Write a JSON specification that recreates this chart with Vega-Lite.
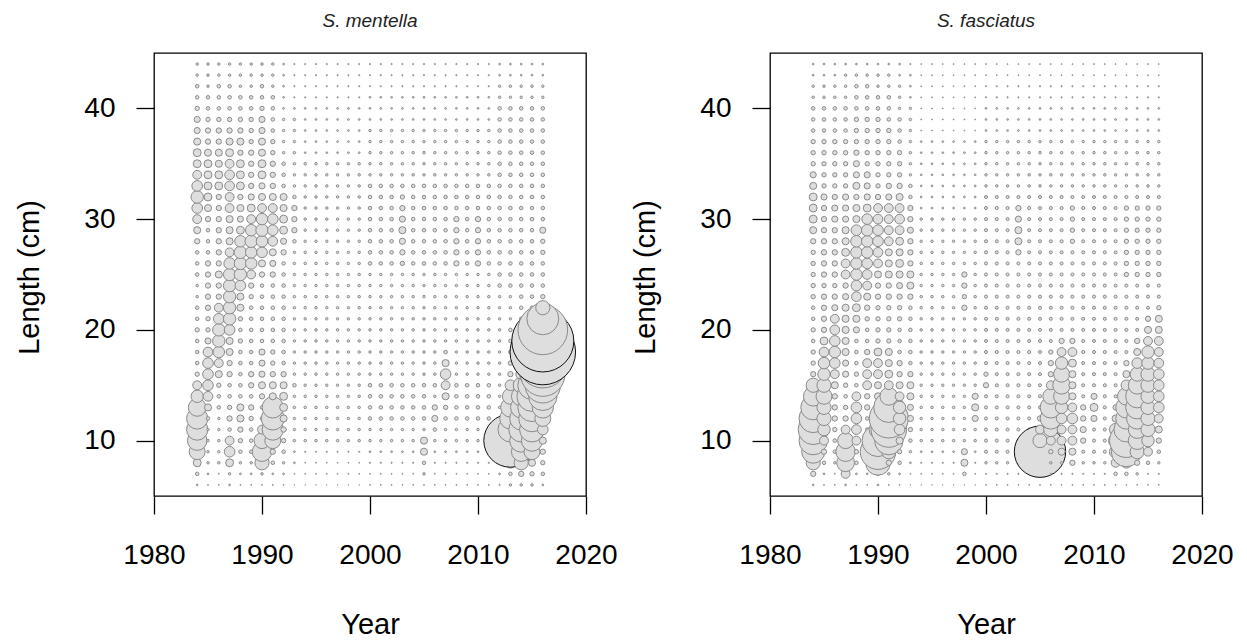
{
  "$schema": "https://vega.github.io/schema/vega-lite/v6.json",
  "autosize": {"type": "none"},
  "padding": {"left": 154, "top": 53, "right": 1093, "bottom": 590},
  "background": "white",
  "spacing": 184,
  "bounds": "flush",
  "config": {
    "view": {"stroke": "#000", "strokeWidth": 1.3},
    "axis": {
      "domain": false, "grid": false, "tickColor": "#000", "tickWidth": 1.3, "tickSize": 18,
      "labelFont": "Liberation Sans", "labelFontSize": 28, "labelColor": "#000",
      "titleFont": "Liberation Sans", "titleFontSize": 29, "titleFontWeight": "normal", "titleColor": "#000",
      "labelFlush": false, "labelOverlap": false
    },
    "title": {"font": "Liberation Sans", "fontSize": 19, "fontStyle": "italic", "fontWeight": "normal", "color": "#222", "baseline": "alphabetic", "offset": 22}
  },
  "hconcat": [
    {
      "width": 432, "height": 443,
      "title": {"text": "S. mentella"},
      "data": {
        "format": {"type": "csv", "parse": {"y": "number", "l": "number", "s": "number"}},
        "values": "y,l,s\n1984,6,1\n1984,7,4\n1984,8,20\n1984,9,81\n1984,10,121\n1984,11,144\n1984,12,144\n1984,13,100\n1984,14,49\n1984,15,25\n1984,16,6\n1984,17,4\n1984,18,4\n1984,19,4\n1984,20,6\n1984,21,4\n1984,22,4\n1984,23,2\n1984,24,2\n1984,25,4\n1984,26,4\n1984,27,4\n1984,28,9\n1984,29,16\n1984,30,25\n1984,31,36\n1984,32,49\n1984,33,36\n1984,34,25\n1984,35,20\n1984,36,20\n1984,37,16\n1984,38,12\n1984,39,12\n1984,40,6\n1984,41,4\n1984,42,4\n1984,43,2\n1984,44,2\n1985,6,0.3\n1985,7,1\n1985,8,2\n1985,9,2\n1985,10,2\n1985,11,2\n1985,12,4\n1985,13,16\n1985,14,30\n1985,15,36\n1985,16,36\n1985,17,36\n1985,18,30\n1985,19,12\n1985,20,6\n1985,21,6\n1985,22,9\n1985,23,9\n1985,24,9\n1985,25,9\n1985,26,9\n1985,27,4\n1985,28,4\n1985,29,4\n1985,30,9\n1985,31,16\n1985,32,20\n1985,33,20\n1985,34,20\n1985,35,20\n1985,36,16\n1985,37,9\n1985,38,9\n1985,39,6\n1985,40,4\n1985,41,4\n1985,42,2\n1985,43,2\n1985,44,2\n1986,6,0.3\n1986,7,0.3\n1986,8,2\n1986,9,2\n1986,10,2\n1986,11,2\n1986,12,2\n1986,13,4\n1986,14,4\n1986,15,6\n1986,16,16\n1986,17,25\n1986,18,42\n1986,19,49\n1986,20,49\n1986,21,36\n1986,22,25\n1986,23,9\n1986,24,9\n1986,25,16\n1986,26,9\n1986,27,9\n1986,28,9\n1986,29,9\n1986,30,9\n1986,31,9\n1986,32,9\n1986,33,20\n1986,34,20\n1986,35,16\n1986,36,16\n1986,37,9\n1986,38,9\n1986,39,6\n1986,40,4\n1986,41,4\n1986,42,4\n1986,43,2\n1986,44,2\n1987,6,1\n1987,7,2\n1987,8,20\n1987,9,36\n1987,10,25\n1987,11,4\n1987,12,9\n1987,13,6\n1987,14,4\n1987,15,4\n1987,16,9\n1987,17,9\n1987,18,16\n1987,19,16\n1987,20,36\n1987,21,49\n1987,22,49\n1987,23,49\n1987,24,49\n1987,25,49\n1987,26,42\n1987,27,25\n1987,28,16\n1987,29,16\n1987,30,16\n1987,31,25\n1987,32,25\n1987,33,30\n1987,34,30\n1987,35,25\n1987,36,20\n1987,37,16\n1987,38,9\n1987,39,6\n1987,40,4\n1987,41,4\n1987,42,4\n1987,43,2\n1987,44,2\n1988,6,0.3\n1988,7,1\n1988,8,2\n1988,9,4\n1988,10,6\n1988,11,9\n1988,12,16\n1988,13,16\n1988,14,4\n1988,15,4\n1988,16,4\n1988,17,4\n1988,18,4\n1988,19,6\n1988,20,4\n1988,21,6\n1988,22,16\n1988,23,16\n1988,24,36\n1988,25,49\n1988,26,49\n1988,27,49\n1988,28,42\n1988,29,20\n1988,30,12\n1988,31,16\n1988,32,9\n1988,33,20\n1988,34,20\n1988,35,20\n1988,36,9\n1988,37,16\n1988,38,9\n1988,39,6\n1988,40,4\n1988,41,4\n1988,42,2\n1988,43,2\n1988,44,2\n1989,6,0.3\n1989,7,1\n1989,8,2\n1989,9,4\n1989,10,4\n1989,11,4\n1989,12,6\n1989,13,9\n1989,14,4\n1989,15,9\n1989,16,9\n1989,17,4\n1989,18,4\n1989,19,4\n1989,20,4\n1989,21,4\n1989,22,4\n1989,23,6\n1989,24,9\n1989,25,25\n1989,26,42\n1989,27,42\n1989,28,49\n1989,29,42\n1989,30,25\n1989,31,20\n1989,32,12\n1989,33,9\n1989,34,9\n1989,35,9\n1989,36,9\n1989,37,6\n1989,38,6\n1989,39,6\n1989,40,4\n1989,41,4\n1989,42,2\n1989,43,2\n1989,44,2\n1990,6,0.3\n1990,7,2\n1990,8,64\n1990,9,121\n1990,10,81\n1990,11,25\n1990,12,4\n1990,13,4\n1990,14,9\n1990,15,16\n1990,16,12\n1990,17,12\n1990,18,12\n1990,19,4\n1990,20,4\n1990,21,4\n1990,22,4\n1990,23,4\n1990,24,4\n1990,25,9\n1990,26,16\n1990,27,36\n1990,28,42\n1990,29,49\n1990,30,42\n1990,31,25\n1990,32,16\n1990,33,12\n1990,34,20\n1990,35,20\n1990,36,16\n1990,37,16\n1990,38,12\n1990,39,12\n1990,40,6\n1990,41,4\n1990,42,4\n1990,43,2\n1990,44,2\n1991,6,0.3\n1991,7,1\n1991,8,4\n1991,9,9\n1991,10,81\n1991,11,144\n1991,12,169\n1991,13,144\n1991,14,16\n1991,15,16\n1991,16,9\n1991,17,6\n1991,18,6\n1991,19,4\n1991,20,4\n1991,21,4\n1991,22,4\n1991,23,4\n1991,24,4\n1991,25,9\n1991,26,12\n1991,27,16\n1991,28,30\n1991,29,36\n1991,30,36\n1991,31,25\n1991,32,16\n1991,33,9\n1991,34,9\n1991,35,9\n1991,36,6\n1991,37,6\n1991,38,4\n1991,39,4\n1991,40,4\n1991,41,4\n1991,42,2\n1991,43,2\n1991,44,2\n1992,6,0.3\n1992,7,1\n1992,8,2\n1992,9,4\n1992,10,6\n1992,11,9\n1992,12,16\n1992,13,20\n1992,14,20\n1992,15,16\n1992,16,9\n1992,17,4\n1992,18,4\n1992,19,4\n1992,20,4\n1992,21,4\n1992,22,4\n1992,23,4\n1992,24,4\n1992,25,4\n1992,26,4\n1992,27,9\n1992,28,12\n1992,29,20\n1992,30,20\n1992,31,16\n1992,32,16\n1992,33,4\n1992,34,4\n1992,35,4\n1992,36,2\n1992,37,2\n1992,38,2\n1992,39,2\n1992,40,1\n1992,41,1\n1992,42,1\n1992,43,1\n1992,44,1\n1993,6,0.1\n1993,7,0.3\n1993,8,1\n1993,9,1\n1993,10,2\n1993,11,2\n1993,12,2\n1993,13,2\n1993,14,2\n1993,15,4\n1993,16,2\n1993,17,2\n1993,18,2\n1993,19,2\n1993,20,2\n1993,21,2\n1993,22,2\n1993,23,2\n1993,24,2\n1993,25,2\n1993,26,2\n1993,27,2\n1993,28,4\n1993,29,9\n1993,30,9\n1993,31,9\n1993,32,4\n1993,33,2\n1993,34,2\n1993,35,2\n1993,36,2\n1993,37,2\n1993,38,2\n1993,39,2\n1993,40,1\n1993,41,0.5\n1993,42,0.5\n1993,43,0.5\n1993,44,0.5\n1994,6,0.1\n1994,7,0.3\n1994,8,0.3\n1994,9,0.5\n1994,10,2\n1994,11,2\n1994,12,2\n1994,13,2\n1994,14,2\n1994,15,2\n1994,16,2\n1994,17,2\n1994,18,2\n1994,19,2\n1994,20,2\n1994,21,2\n1994,22,2\n1994,23,2\n1994,24,2\n1994,25,2\n1994,26,2\n1994,27,2\n1994,28,2\n1994,29,2\n1994,30,2\n1994,31,2\n1994,32,2\n1994,33,2\n1994,34,2\n1994,35,2\n1994,36,1\n1994,37,1\n1994,38,1\n1994,39,1\n1994,40,1\n1994,41,0.5\n1994,42,0.5\n1994,43,0.5\n1994,44,0.5\n1995,6,0.1\n1995,7,0.3\n1995,8,0.3\n1995,9,0.5\n1995,10,2\n1995,11,2\n1995,12,2\n1995,13,2\n1995,14,2\n1995,15,2\n1995,16,2\n1995,17,2\n1995,18,2\n1995,19,2\n1995,20,2\n1995,21,2\n1995,22,2\n1995,23,2\n1995,24,2\n1995,25,2\n1995,26,2\n1995,27,2\n1995,28,2\n1995,29,2\n1995,30,2\n1995,31,2\n1995,32,2\n1995,33,2\n1995,34,2\n1995,35,2\n1995,36,1\n1995,37,1\n1995,38,1\n1995,39,1\n1995,40,1\n1995,41,0.5\n1995,42,0.5\n1995,43,0.5\n1995,44,0.5\n1996,6,0.1\n1996,7,0.3\n1996,8,0.3\n1996,9,0.5\n1996,10,2\n1996,11,2\n1996,12,2\n1996,13,2\n1996,14,2\n1996,15,2\n1996,16,2\n1996,17,2\n1996,18,2\n1996,19,2\n1996,20,2\n1996,21,2\n1996,22,2\n1996,23,2\n1996,24,2\n1996,25,2\n1996,26,2\n1996,27,2\n1996,28,2\n1996,29,2\n1996,30,2\n1996,31,2\n1996,32,2\n1996,33,2\n1996,34,2\n1996,35,2\n1996,36,1\n1996,37,1\n1996,38,1\n1996,39,1\n1996,40,1\n1996,41,0.5\n1996,42,0.5\n1996,43,0.5\n1996,44,0.5\n1997,6,0.1\n1997,7,0.3\n1997,8,0.3\n1997,9,0.5\n1997,10,2\n1997,11,2\n1997,12,2\n1997,13,2\n1997,14,2\n1997,15,2\n1997,16,2\n1997,17,2\n1997,18,2\n1997,19,2\n1997,20,2\n1997,21,2\n1997,22,2\n1997,23,2\n1997,24,2\n1997,25,2\n1997,26,2\n1997,27,2\n1997,28,2\n1997,29,2\n1997,30,2\n1997,31,2\n1997,32,2\n1997,33,2\n1997,34,2\n1997,35,2\n1997,36,1\n1997,37,1\n1997,38,1\n1997,39,1\n1997,40,1\n1997,41,0.5\n1997,42,0.5\n1997,43,0.5\n1997,44,0.5\n1998,6,0.1\n1998,7,0.3\n1998,8,0.3\n1998,9,0.5\n1998,10,2\n1998,11,2\n1998,12,2\n1998,13,2\n1998,14,2\n1998,15,2\n1998,16,2\n1998,17,2\n1998,18,2\n1998,19,2\n1998,20,2\n1998,21,2\n1998,22,2\n1998,23,2\n1998,24,2\n1998,25,2\n1998,26,2\n1998,27,2\n1998,28,2\n1998,29,2\n1998,30,2\n1998,31,2\n1998,32,2\n1998,33,2\n1998,34,2\n1998,35,2\n1998,36,1\n1998,37,1\n1998,38,1\n1998,39,1\n1998,40,1\n1998,41,0.5\n1998,42,0.5\n1998,43,0.5\n1998,44,0.5\n1999,6,0.1\n1999,7,0.3\n1999,8,0.3\n1999,9,0.5\n1999,10,2\n1999,11,2\n1999,12,2\n1999,13,2\n1999,14,2\n1999,15,2\n1999,16,2\n1999,17,2\n1999,18,2\n1999,19,2\n1999,20,2\n1999,21,2\n1999,22,2\n1999,23,2\n1999,24,2\n1999,25,2\n1999,26,2\n1999,27,2\n1999,28,2\n1999,29,2\n1999,30,2\n1999,31,2\n1999,32,2\n1999,33,2\n1999,34,2\n1999,35,2\n1999,36,1\n1999,37,1\n1999,38,1\n1999,39,1\n1999,40,1\n1999,41,0.5\n1999,42,0.5\n1999,43,0.5\n1999,44,0.5\n2000,6,0.3\n2000,7,0.3\n2000,8,0.5\n2000,9,1\n2000,10,2\n2000,11,2\n2000,12,4\n2000,13,4\n2000,14,4\n2000,15,4\n2000,16,2\n2000,17,2\n2000,18,2\n2000,19,2\n2000,20,2\n2000,21,2\n2000,22,2\n2000,23,2\n2000,24,2\n2000,25,2\n2000,26,4\n2000,27,4\n2000,28,4\n2000,29,4\n2000,30,4\n2000,31,4\n2000,32,4\n2000,33,4\n2000,34,2\n2000,35,2\n2000,36,2\n2000,37,2\n2000,38,2\n2000,39,1\n2000,40,1\n2000,41,1\n2000,42,0.5\n2000,43,0.5\n2000,44,0.5\n2001,6,0.3\n2001,7,0.3\n2001,8,0.5\n2001,9,1\n2001,10,2\n2001,11,2\n2001,12,4\n2001,13,4\n2001,14,4\n2001,15,4\n2001,16,2\n2001,17,2\n2001,18,2\n2001,19,2\n2001,20,2\n2001,21,2\n2001,22,2\n2001,23,2\n2001,24,2\n2001,25,2\n2001,26,4\n2001,27,4\n2001,28,4\n2001,29,4\n2001,30,4\n2001,31,4\n2001,32,4\n2001,33,4\n2001,34,2\n2001,35,2\n2001,36,2\n2001,37,2\n2001,38,2\n2001,39,1\n2001,40,1\n2001,41,1\n2001,42,0.5\n2001,43,0.5\n2001,44,0.5\n2002,6,0.3\n2002,7,0.3\n2002,8,0.5\n2002,9,1\n2002,10,2\n2002,11,2\n2002,12,4\n2002,13,4\n2002,14,4\n2002,15,4\n2002,16,2\n2002,17,2\n2002,18,2\n2002,19,2\n2002,20,2\n2002,21,2\n2002,22,2\n2002,23,2\n2002,24,2\n2002,25,2\n2002,26,4\n2002,27,4\n2002,28,4\n2002,29,4\n2002,30,4\n2002,31,4\n2002,32,4\n2002,33,4\n2002,34,2\n2002,35,2\n2002,36,2\n2002,37,2\n2002,38,2\n2002,39,1\n2002,40,1\n2002,41,1\n2002,42,0.5\n2002,43,0.5\n2002,44,0.5\n2003,6,0.3\n2003,7,0.3\n2003,8,0.5\n2003,9,1\n2003,10,2\n2003,11,2\n2003,12,4\n2003,13,4\n2003,14,4\n2003,15,4\n2003,16,2\n2003,17,2\n2003,18,2\n2003,19,2\n2003,20,2\n2003,21,2\n2003,22,2\n2003,23,2\n2003,24,2\n2003,25,2\n2003,26,6\n2003,27,9\n2003,28,12\n2003,29,16\n2003,30,12\n2003,31,9\n2003,32,6\n2003,33,4\n2003,34,2\n2003,35,2\n2003,36,2\n2003,37,2\n2003,38,2\n2003,39,1\n2003,40,1\n2003,41,1\n2003,42,0.5\n2003,43,0.5\n2003,44,0.5\n2004,6,0.3\n2004,7,0.3\n2004,8,0.5\n2004,9,1\n2004,10,2\n2004,11,2\n2004,12,4\n2004,13,4\n2004,14,4\n2004,15,4\n2004,16,2\n2004,17,2\n2004,18,2\n2004,19,2\n2004,20,2\n2004,21,2\n2004,22,2\n2004,23,2\n2004,24,2\n2004,25,2\n2004,26,4\n2004,27,4\n2004,28,4\n2004,29,4\n2004,30,4\n2004,31,4\n2004,32,4\n2004,33,4\n2004,34,2\n2004,35,2\n2004,36,2\n2004,37,2\n2004,38,2\n2004,39,1\n2004,40,1\n2004,41,1\n2004,42,0.5\n2004,43,0.5\n2004,44,0.5\n2005,6,0.3\n2005,7,2\n2005,8,4\n2005,9,16\n2005,10,16\n2005,11,2\n2005,12,4\n2005,13,4\n2005,14,4\n2005,15,4\n2005,16,2\n2005,17,2\n2005,18,2\n2005,19,2\n2005,20,2\n2005,21,2\n2005,22,2\n2005,23,2\n2005,24,2\n2005,25,2\n2005,26,4\n2005,27,4\n2005,28,4\n2005,29,4\n2005,30,4\n2005,31,4\n2005,32,4\n2005,33,4\n2005,34,2\n2005,35,2\n2005,36,2\n2005,37,2\n2005,38,2\n2005,39,1\n2005,40,1\n2005,41,1\n2005,42,0.5\n2005,43,0.5\n2005,44,0.5\n2006,6,0.3\n2006,7,0.3\n2006,8,0.5\n2006,9,1\n2006,10,2\n2006,11,4\n2006,12,12\n2006,13,9\n2006,14,2\n2006,15,4\n2006,16,2\n2006,17,2\n2006,18,2\n2006,19,2\n2006,20,2\n2006,21,2\n2006,22,2\n2006,23,2\n2006,24,2\n2006,25,2\n2006,26,4\n2006,27,4\n2006,28,4\n2006,29,4\n2006,30,4\n2006,31,4\n2006,32,4\n2006,33,4\n2006,34,2\n2006,35,2\n2006,36,2\n2006,37,2\n2006,38,2\n2006,39,1\n2006,40,1\n2006,41,1\n2006,42,0.5\n2006,43,0.5\n2006,44,0.5\n2007,6,0.3\n2007,7,0.3\n2007,8,0.5\n2007,9,1\n2007,10,2\n2007,11,2\n2007,12,4\n2007,13,6\n2007,14,16\n2007,15,25\n2007,16,36\n2007,17,16\n2007,18,4\n2007,19,2\n2007,20,2\n2007,21,2\n2007,22,2\n2007,23,2\n2007,24,2\n2007,25,2\n2007,26,4\n2007,27,4\n2007,28,4\n2007,29,4\n2007,30,4\n2007,31,4\n2007,32,4\n2007,33,4\n2007,34,2\n2007,35,2\n2007,36,2\n2007,37,2\n2007,38,2\n2007,39,1\n2007,40,1\n2007,41,1\n2007,42,0.5\n2007,43,0.5\n2007,44,0.5\n2008,6,0.3\n2008,7,0.3\n2008,8,0.5\n2008,9,1\n2008,10,2\n2008,11,2\n2008,12,4\n2008,13,4\n2008,14,4\n2008,15,4\n2008,16,2\n2008,17,2\n2008,18,2\n2008,19,2\n2008,20,2\n2008,21,2\n2008,22,2\n2008,23,2\n2008,24,2\n2008,25,2\n2008,26,9\n2008,27,9\n2008,28,9\n2008,29,9\n2008,30,9\n2008,31,4\n2008,32,4\n2008,33,4\n2008,34,2\n2008,35,2\n2008,36,2\n2008,37,2\n2008,38,2\n2008,39,1\n2008,40,1\n2008,41,1\n2008,42,0.5\n2008,43,0.5\n2008,44,0.5\n2009,6,0.3\n2009,7,0.3\n2009,8,0.5\n2009,9,1\n2009,10,2\n2009,11,2\n2009,12,4\n2009,13,4\n2009,14,4\n2009,15,4\n2009,16,2\n2009,17,2\n2009,18,2\n2009,19,2\n2009,20,2\n2009,21,2\n2009,22,2\n2009,23,2\n2009,24,2\n2009,25,2\n2009,26,4\n2009,27,4\n2009,28,4\n2009,29,4\n2009,30,4\n2009,31,4\n2009,32,4\n2009,33,4\n2009,34,2\n2009,35,2\n2009,36,2\n2009,37,2\n2009,38,2\n2009,39,1\n2009,40,1\n2009,41,1\n2009,42,0.5\n2009,43,0.5\n2009,44,0.5\n2010,6,0.3\n2010,7,0.3\n2010,8,0.5\n2010,9,1\n2010,10,2\n2010,11,2\n2010,12,4\n2010,13,4\n2010,14,4\n2010,15,4\n2010,16,2\n2010,17,2\n2010,18,2\n2010,19,2\n2010,20,2\n2010,21,2\n2010,22,2\n2010,23,2\n2010,24,2\n2010,25,2\n2010,26,9\n2010,27,9\n2010,28,9\n2010,29,9\n2010,30,9\n2010,31,4\n2010,32,4\n2010,33,4\n2010,34,2\n2010,35,2\n2010,36,2\n2010,37,2\n2010,38,2\n2010,39,1\n2010,40,1\n2010,41,1\n2010,42,0.5\n2010,43,0.5\n2010,44,0.5\n2011,6,0.3\n2011,7,0.3\n2011,8,0.5\n2011,9,1\n2011,10,2\n2011,11,2\n2011,12,4\n2011,13,4\n2011,14,4\n2011,15,4\n2011,16,2\n2011,17,2\n2011,18,2\n2011,19,2\n2011,20,2\n2011,21,2\n2011,22,2\n2011,23,2\n2011,24,2\n2011,25,2\n2011,26,4\n2011,27,4\n2011,28,4\n2011,29,4\n2011,30,4\n2011,31,4\n2011,32,4\n2011,33,4\n2011,34,2\n2011,35,2\n2011,36,2\n2011,37,2\n2011,38,2\n2011,39,1\n2011,40,1\n2011,41,1\n2011,42,0.5\n2011,43,0.5\n2011,44,0.5\n2012,6,0.5\n2012,7,1\n2012,8,2\n2012,9,2\n2012,10,2\n2012,11,2\n2012,12,2\n2012,13,2\n2012,14,2\n2012,15,2\n2012,16,2\n2012,17,2\n2012,18,2\n2012,19,2\n2012,20,2\n2012,21,2\n2012,22,2\n2012,23,2\n2012,24,4\n2012,25,4\n2012,26,4\n2012,27,4\n2012,28,4\n2012,29,4\n2012,30,4\n2012,31,4\n2012,32,4\n2012,33,4\n2012,34,4\n2012,35,4\n2012,36,4\n2012,37,4\n2012,38,4\n2012,39,4\n2012,40,4\n2012,41,2\n2012,42,2\n2012,43,1\n2012,44,1\n2013,6,2\n2013,7,4\n2013,8,36\n2013,9,144\n2013,10,900\n2013,11,196\n2013,12,144\n2013,13,121\n2013,14,81\n2013,15,36\n2013,16,9\n2013,17,6\n2013,18,4\n2013,19,4\n2013,20,4\n2013,21,2\n2013,22,2\n2013,23,2\n2013,24,4\n2013,25,4\n2013,26,4\n2013,27,4\n2013,28,4\n2013,29,4\n2013,30,4\n2013,31,4\n2013,32,4\n2013,33,4\n2013,34,4\n2013,35,4\n2013,36,4\n2013,37,4\n2013,38,4\n2013,39,4\n2013,40,4\n2013,41,2\n2013,42,2\n2013,43,1\n2013,44,1\n2014,6,2\n2014,7,9\n2014,8,64\n2014,9,121\n2014,10,169\n2014,11,196\n2014,12,169\n2014,13,144\n2014,14,121\n2014,15,81\n2014,16,36\n2014,17,16\n2014,18,6\n2014,19,4\n2014,20,4\n2014,21,4\n2014,22,4\n2014,23,4\n2014,24,4\n2014,25,4\n2014,26,4\n2014,27,4\n2014,28,4\n2014,29,4\n2014,30,4\n2014,31,4\n2014,32,4\n2014,33,4\n2014,34,4\n2014,35,4\n2014,36,4\n2014,37,4\n2014,38,4\n2014,39,4\n2014,40,4\n2014,41,2\n2014,42,2\n2014,43,1\n2014,44,1\n2015,6,2\n2015,7,6\n2015,8,16\n2015,9,81\n2015,10,144\n2015,11,196\n2015,12,225\n2015,13,256\n2015,14,289\n2015,15,256\n2015,16,196\n2015,17,121\n2015,18,64\n2015,19,25\n2015,20,9\n2015,21,4\n2015,22,4\n2015,23,4\n2015,24,4\n2015,25,4\n2015,26,4\n2015,27,4\n2015,28,4\n2015,29,4\n2015,30,4\n2015,31,4\n2015,32,4\n2015,33,4\n2015,34,4\n2015,35,4\n2015,36,4\n2015,37,4\n2015,38,4\n2015,39,4\n2015,40,4\n2015,41,2\n2015,42,2\n2015,43,1\n2015,44,1\n2016,6,1\n2016,7,4\n2016,8,6\n2016,9,9\n2016,10,16\n2016,11,36\n2016,12,81\n2016,13,144\n2016,14,256\n2016,15,400\n2016,16,625\n2016,17,784\n2016,18,1369\n2016,19,1225\n2016,20,784\n2016,21,324\n2016,22,64\n2016,23,6\n2016,24,4\n2016,25,4\n2016,26,4\n2016,27,6\n2016,28,6\n2016,29,12\n2016,30,4\n2016,31,4\n2016,32,4\n2016,33,4\n2016,34,4\n2016,35,4\n2016,36,4\n2016,37,4\n2016,38,4\n2016,39,4\n2016,40,4\n2016,41,2\n2016,42,2\n2016,43,1\n2016,44,1"
      },
      "mark": {"type": "circle", "fill": "#dedede", "fillOpacity": 1, "opacity": 1, "strokeWidth": 1, "clip": false},
      "encoding": {
        "x": {"field": "y", "type": "quantitative", "scale": {"domain": [1980, 2020], "nice": false, "zero": false},
              "axis": {"title": "Year", "values": [1980, 1990, 2000, 2010, 2020], "format": "d", "labelPadding": 27, "titleX": 216, "titleY": 137, "titleBaseline": "alphabetic"}},
        "y": {"field": "l", "type": "quantitative", "scale": {"domain": [5, 45], "nice": false, "zero": false},
              "axis": {"title": "Length (cm)", "values": [10, 20, 30, 40], "labelPadding": 21, "titleX": -116, "titleY": 224, "titleAngle": -90, "titleBaseline": "alphabetic"}},
        "size": {"field": "s", "type": "quantitative", "scale": {"domain": [0, 1444], "range": [0, 4536], "zero": true}, "legend": null},
        "stroke": {"condition": {"test": "datum.s > 800", "value": "#111111"}, "value": "#8a8a8a"}
      }
    },
    {
      "width": 432, "height": 443,
      "title": {"text": "S. fasciatus"},
      "data": {
        "format": {"type": "csv", "parse": {"y": "number", "l": "number", "s": "number"}},
        "values": "y,l,s\n1984,6,1\n1984,7,9\n1984,8,64\n1984,9,169\n1984,10,256\n1984,11,289\n1984,12,256\n1984,13,196\n1984,14,121\n1984,15,64\n1984,16,9\n1984,17,6\n1984,18,6\n1984,19,4\n1984,20,6\n1984,21,4\n1984,22,4\n1984,23,6\n1984,24,6\n1984,25,6\n1984,26,6\n1984,27,6\n1984,28,9\n1984,29,16\n1984,30,20\n1984,31,20\n1984,32,20\n1984,33,16\n1984,34,12\n1984,35,6\n1984,36,6\n1984,37,6\n1984,38,4\n1984,39,4\n1984,40,4\n1984,41,2\n1984,42,2\n1984,43,1\n1984,44,1\n1985,6,0.3\n1985,7,1\n1985,8,4\n1985,9,9\n1985,10,25\n1985,11,49\n1985,12,64\n1985,13,64\n1985,14,81\n1985,15,64\n1985,16,49\n1985,17,42\n1985,18,30\n1985,19,20\n1985,20,9\n1985,21,9\n1985,22,9\n1985,23,9\n1985,24,6\n1985,25,9\n1985,26,9\n1985,27,9\n1985,28,9\n1985,29,9\n1985,30,9\n1985,31,9\n1985,32,12\n1985,33,6\n1985,34,6\n1985,35,6\n1985,36,6\n1985,37,6\n1985,38,4\n1985,39,4\n1985,40,4\n1985,41,2\n1985,42,2\n1985,43,1\n1985,44,1\n1986,6,0.3\n1986,7,0.3\n1986,8,2\n1986,9,4\n1986,10,4\n1986,11,6\n1986,12,9\n1986,13,9\n1986,14,9\n1986,15,16\n1986,16,25\n1986,17,36\n1986,18,42\n1986,19,36\n1986,20,30\n1986,21,25\n1986,22,12\n1986,23,9\n1986,24,6\n1986,25,9\n1986,26,9\n1986,27,9\n1986,28,9\n1986,29,9\n1986,30,12\n1986,31,12\n1986,32,9\n1986,33,6\n1986,34,6\n1986,35,6\n1986,36,6\n1986,37,6\n1986,38,4\n1986,39,4\n1986,40,4\n1986,41,2\n1986,42,2\n1986,43,1\n1986,44,1\n1987,6,1\n1987,7,25\n1987,8,100\n1987,9,121\n1987,10,81\n1987,11,25\n1987,12,9\n1987,13,6\n1987,14,4\n1987,15,6\n1987,16,12\n1987,17,12\n1987,18,16\n1987,19,16\n1987,20,16\n1987,21,16\n1987,22,16\n1987,23,12\n1987,24,9\n1987,25,25\n1987,26,25\n1987,27,20\n1987,28,16\n1987,29,16\n1987,30,12\n1987,31,12\n1987,32,12\n1987,33,6\n1987,34,6\n1987,35,6\n1987,36,6\n1987,37,6\n1987,38,4\n1987,39,4\n1987,40,4\n1987,41,2\n1987,42,2\n1987,43,2\n1987,44,1\n1988,6,0.3\n1988,7,1\n1988,8,4\n1988,9,6\n1988,10,25\n1988,11,30\n1988,12,36\n1988,13,36\n1988,14,25\n1988,15,4\n1988,16,6\n1988,17,4\n1988,18,4\n1988,19,4\n1988,20,12\n1988,21,16\n1988,22,20\n1988,23,30\n1988,24,36\n1988,25,42\n1988,26,42\n1988,27,42\n1988,28,42\n1988,29,36\n1988,30,16\n1988,31,16\n1988,32,9\n1988,33,16\n1988,34,12\n1988,35,12\n1988,36,9\n1988,37,6\n1988,38,6\n1988,39,6\n1988,40,4\n1988,41,4\n1988,42,4\n1988,43,2\n1988,44,1\n1989,6,0.3\n1989,7,1\n1989,8,2\n1989,9,4\n1989,10,4\n1989,11,4\n1989,12,4\n1989,13,9\n1989,14,9\n1989,15,25\n1989,16,25\n1989,17,25\n1989,18,9\n1989,19,4\n1989,20,4\n1989,21,6\n1989,22,9\n1989,23,16\n1989,24,25\n1989,25,30\n1989,26,36\n1989,27,42\n1989,28,42\n1989,29,42\n1989,30,36\n1989,31,20\n1989,32,12\n1989,33,12\n1989,34,12\n1989,35,6\n1989,36,6\n1989,37,6\n1989,38,6\n1989,39,6\n1989,40,4\n1989,41,4\n1989,42,4\n1989,43,2\n1989,44,1\n1990,6,1\n1990,7,4\n1990,8,196\n1990,9,400\n1990,10,324\n1990,11,100\n1990,12,25\n1990,13,9\n1990,14,16\n1990,15,16\n1990,16,25\n1990,17,25\n1990,18,20\n1990,19,6\n1990,20,6\n1990,21,6\n1990,22,6\n1990,23,9\n1990,24,9\n1990,25,16\n1990,26,25\n1990,27,30\n1990,28,36\n1990,29,36\n1990,30,30\n1990,31,25\n1990,32,9\n1990,33,6\n1990,34,6\n1990,35,6\n1990,36,6\n1990,37,6\n1990,38,6\n1990,39,6\n1990,40,4\n1990,41,4\n1990,42,2\n1990,43,2\n1990,44,1\n1991,6,0.3\n1991,7,2\n1991,8,9\n1991,9,64\n1991,10,256\n1991,11,400\n1991,12,484\n1991,13,289\n1991,14,100\n1991,15,25\n1991,16,20\n1991,17,16\n1991,18,16\n1991,19,6\n1991,20,6\n1991,21,6\n1991,22,6\n1991,23,9\n1991,24,9\n1991,25,16\n1991,26,16\n1991,27,16\n1991,28,25\n1991,29,25\n1991,30,25\n1991,31,25\n1991,32,12\n1991,33,9\n1991,34,6\n1991,35,6\n1991,36,6\n1991,37,6\n1991,38,6\n1991,39,4\n1991,40,4\n1991,41,4\n1991,42,2\n1991,43,2\n1991,44,1\n1992,6,0.3\n1992,7,1\n1992,8,4\n1992,9,6\n1992,10,16\n1992,11,36\n1992,12,49\n1992,13,49\n1992,14,25\n1992,15,16\n1992,16,9\n1992,17,9\n1992,18,4\n1992,19,4\n1992,20,4\n1992,21,6\n1992,22,6\n1992,23,9\n1992,24,12\n1992,25,16\n1992,26,20\n1992,27,16\n1992,28,20\n1992,29,25\n1992,30,30\n1992,31,25\n1992,32,16\n1992,33,9\n1992,34,6\n1992,35,6\n1992,36,6\n1992,37,4\n1992,38,4\n1992,39,4\n1992,40,2\n1992,41,2\n1992,42,2\n1992,43,1\n1992,44,1\n1993,6,0.1\n1993,7,0.3\n1993,8,1\n1993,9,2\n1993,10,4\n1993,11,6\n1993,12,12\n1993,13,12\n1993,14,16\n1993,15,16\n1993,16,9\n1993,17,4\n1993,18,4\n1993,19,4\n1993,20,4\n1993,21,4\n1993,22,4\n1993,23,9\n1993,24,16\n1993,25,16\n1993,26,9\n1993,27,9\n1993,28,9\n1993,29,12\n1993,30,9\n1993,31,9\n1993,32,4\n1993,33,4\n1993,34,2\n1993,35,2\n1993,36,2\n1993,37,2\n1993,38,2\n1993,39,2\n1993,40,2\n1993,41,1\n1993,42,1\n1993,43,1\n1993,44,0.5\n1994,6,0.1\n1994,7,0.3\n1994,8,0.5\n1994,9,1\n1994,10,2\n1994,11,2\n1994,12,2\n1994,13,2\n1994,14,2\n1994,15,2\n1994,16,2\n1994,17,2\n1994,18,2\n1994,19,2\n1994,20,2\n1994,21,2\n1994,22,2\n1994,23,2\n1994,24,2\n1994,25,2\n1994,26,2\n1994,27,2\n1994,28,2\n1994,29,2\n1994,30,2\n1994,31,1\n1994,32,1\n1994,33,1\n1994,34,1\n1994,35,1\n1994,36,1\n1994,37,1\n1994,38,0.3\n1994,39,0.3\n1994,40,0.3\n1994,41,0.3\n1994,42,0.3\n1994,43,0.3\n1994,44,0.3\n1995,6,0.1\n1995,7,0.3\n1995,8,0.5\n1995,9,1\n1995,10,2\n1995,11,2\n1995,12,2\n1995,13,2\n1995,14,2\n1995,15,2\n1995,16,2\n1995,17,2\n1995,18,2\n1995,19,2\n1995,20,2\n1995,21,2\n1995,22,2\n1995,23,2\n1995,24,2\n1995,25,2\n1995,26,2\n1995,27,2\n1995,28,2\n1995,29,2\n1995,30,2\n1995,31,1\n1995,32,1\n1995,33,1\n1995,34,1\n1995,35,1\n1995,36,1\n1995,37,1\n1995,38,0.3\n1995,39,0.3\n1995,40,0.3\n1995,41,0.3\n1995,42,0.3\n1995,43,0.3\n1995,44,0.3\n1996,6,0.1\n1996,7,0.3\n1996,8,0.5\n1996,9,1\n1996,10,2\n1996,11,2\n1996,12,2\n1996,13,2\n1996,14,2\n1996,15,2\n1996,16,2\n1996,17,2\n1996,18,2\n1996,19,2\n1996,20,2\n1996,21,2\n1996,22,2\n1996,23,2\n1996,24,2\n1996,25,2\n1996,26,2\n1996,27,2\n1996,28,2\n1996,29,2\n1996,30,2\n1996,31,1\n1996,32,1\n1996,33,1\n1996,34,1\n1996,35,1\n1996,36,1\n1996,37,1\n1996,38,0.3\n1996,39,0.3\n1996,40,0.3\n1996,41,0.3\n1996,42,0.3\n1996,43,0.3\n1996,44,0.3\n1997,6,0.1\n1997,7,0.3\n1997,8,0.5\n1997,9,1\n1997,10,2\n1997,11,2\n1997,12,2\n1997,13,2\n1997,14,2\n1997,15,2\n1997,16,2\n1997,17,2\n1997,18,2\n1997,19,2\n1997,20,2\n1997,21,2\n1997,22,2\n1997,23,2\n1997,24,2\n1997,25,2\n1997,26,2\n1997,27,2\n1997,28,2\n1997,29,2\n1997,30,2\n1997,31,1\n1997,32,1\n1997,33,1\n1997,34,1\n1997,35,1\n1997,36,1\n1997,37,1\n1997,38,0.3\n1997,39,0.3\n1997,40,0.3\n1997,41,0.3\n1997,42,0.3\n1997,43,0.3\n1997,44,0.3\n1998,6,0.1\n1998,7,4\n1998,8,16\n1998,9,12\n1998,10,2\n1998,11,2\n1998,12,2\n1998,13,2\n1998,14,2\n1998,15,2\n1998,16,2\n1998,17,2\n1998,18,2\n1998,19,2\n1998,20,2\n1998,21,2\n1998,22,9\n1998,23,6\n1998,24,9\n1998,25,9\n1998,26,2\n1998,27,2\n1998,28,2\n1998,29,2\n1998,30,2\n1998,31,1\n1998,32,1\n1998,33,1\n1998,34,1\n1998,35,1\n1998,36,1\n1998,37,1\n1998,38,0.3\n1998,39,0.3\n1998,40,0.3\n1998,41,0.3\n1998,42,0.3\n1998,43,0.3\n1998,44,0.3\n1999,6,0.1\n1999,7,0.3\n1999,8,0.5\n1999,9,1\n1999,10,2\n1999,11,2\n1999,12,12\n1999,13,16\n1999,14,12\n1999,15,2\n1999,16,2\n1999,17,2\n1999,18,2\n1999,19,2\n1999,20,2\n1999,21,2\n1999,22,2\n1999,23,2\n1999,24,2\n1999,25,2\n1999,26,2\n1999,27,2\n1999,28,2\n1999,29,2\n1999,30,2\n1999,31,1\n1999,32,1\n1999,33,1\n1999,34,1\n1999,35,1\n1999,36,1\n1999,37,1\n1999,38,0.3\n1999,39,0.3\n1999,40,0.3\n1999,41,0.3\n1999,42,0.3\n1999,43,0.3\n1999,44,0.3\n2000,6,0.3\n2000,7,0.5\n2000,8,2\n2000,9,3\n2000,10,3\n2000,11,3\n2000,12,3\n2000,13,3\n2000,14,3\n2000,15,9\n2000,16,6\n2000,17,3\n2000,18,3\n2000,19,3\n2000,20,3\n2000,21,3\n2000,22,3\n2000,23,3\n2000,24,3\n2000,25,3\n2000,26,3\n2000,27,3\n2000,28,3\n2000,29,3\n2000,30,3\n2000,31,3\n2000,32,3\n2000,33,2\n2000,34,2\n2000,35,2\n2000,36,2\n2000,37,2\n2000,38,1\n2000,39,1\n2000,40,1\n2000,41,0.5\n2000,42,0.5\n2000,43,0.3\n2000,44,0.3\n2001,6,0.3\n2001,7,0.5\n2001,8,2\n2001,9,3\n2001,10,3\n2001,11,3\n2001,12,3\n2001,13,3\n2001,14,3\n2001,15,3\n2001,16,3\n2001,17,3\n2001,18,3\n2001,19,3\n2001,20,3\n2001,21,3\n2001,22,3\n2001,23,3\n2001,24,3\n2001,25,3\n2001,26,3\n2001,27,3\n2001,28,3\n2001,29,3\n2001,30,3\n2001,31,3\n2001,32,3\n2001,33,2\n2001,34,2\n2001,35,2\n2001,36,2\n2001,37,2\n2001,38,1\n2001,39,1\n2001,40,1\n2001,41,0.5\n2001,42,0.5\n2001,43,0.3\n2001,44,0.3\n2002,6,0.3\n2002,7,0.5\n2002,8,2\n2002,9,3\n2002,10,3\n2002,11,3\n2002,12,3\n2002,13,3\n2002,14,3\n2002,15,3\n2002,16,3\n2002,17,3\n2002,18,3\n2002,19,3\n2002,20,3\n2002,21,3\n2002,22,3\n2002,23,3\n2002,24,3\n2002,25,3\n2002,26,3\n2002,27,3\n2002,28,3\n2002,29,3\n2002,30,3\n2002,31,3\n2002,32,3\n2002,33,2\n2002,34,2\n2002,35,2\n2002,36,2\n2002,37,2\n2002,38,1\n2002,39,1\n2002,40,1\n2002,41,0.5\n2002,42,0.5\n2002,43,0.3\n2002,44,0.3\n2003,6,0.3\n2003,7,0.5\n2003,8,2\n2003,9,3\n2003,10,3\n2003,11,3\n2003,12,3\n2003,13,3\n2003,14,3\n2003,15,3\n2003,16,3\n2003,17,3\n2003,18,3\n2003,19,3\n2003,20,3\n2003,21,3\n2003,22,3\n2003,23,3\n2003,24,3\n2003,25,3\n2003,26,3\n2003,27,9\n2003,28,16\n2003,29,16\n2003,30,12\n2003,31,9\n2003,32,3\n2003,33,2\n2003,34,2\n2003,35,2\n2003,36,2\n2003,37,2\n2003,38,1\n2003,39,1\n2003,40,1\n2003,41,0.5\n2003,42,0.5\n2003,43,0.3\n2003,44,0.3\n2004,6,0.3\n2004,7,0.5\n2004,8,2\n2004,9,3\n2004,10,3\n2004,11,3\n2004,12,3\n2004,13,3\n2004,14,3\n2004,15,3\n2004,16,3\n2004,17,3\n2004,18,3\n2004,19,3\n2004,20,3\n2004,21,3\n2004,22,3\n2004,23,3\n2004,24,3\n2004,25,3\n2004,26,3\n2004,27,3\n2004,28,3\n2004,29,3\n2004,30,3\n2004,31,3\n2004,32,3\n2004,33,2\n2004,34,2\n2004,35,2\n2004,36,2\n2004,37,2\n2004,38,1\n2004,39,1\n2004,40,1\n2004,41,0.5\n2004,42,0.5\n2004,43,0.3\n2004,44,0.3\n2005,6,0.3\n2005,7,4\n2005,8,25\n2005,9,841\n2005,10,64\n2005,11,25\n2005,12,9\n2005,13,3\n2005,14,3\n2005,15,3\n2005,16,3\n2005,17,3\n2005,18,3\n2005,19,3\n2005,20,3\n2005,21,3\n2005,22,3\n2005,23,3\n2005,24,3\n2005,25,3\n2005,26,3\n2005,27,3\n2005,28,3\n2005,29,3\n2005,30,3\n2005,31,3\n2005,32,3\n2005,33,2\n2005,34,2\n2005,35,2\n2005,36,2\n2005,37,2\n2005,38,1\n2005,39,1\n2005,40,1\n2005,41,0.5\n2005,42,0.5\n2005,43,0.3\n2005,44,0.3\n2006,6,0.3\n2006,7,0.5\n2006,8,2\n2006,9,6\n2006,10,25\n2006,11,64\n2006,12,144\n2006,13,144\n2006,14,81\n2006,15,25\n2006,16,9\n2006,17,9\n2006,18,6\n2006,19,3\n2006,20,3\n2006,21,3\n2006,22,3\n2006,23,3\n2006,24,3\n2006,25,3\n2006,26,3\n2006,27,3\n2006,28,3\n2006,29,3\n2006,30,3\n2006,31,3\n2006,32,3\n2006,33,2\n2006,34,2\n2006,35,2\n2006,36,2\n2006,37,2\n2006,38,1\n2006,39,1\n2006,40,1\n2006,41,0.5\n2006,42,0.5\n2006,43,0.3\n2006,44,0.3\n2007,6,0.3\n2007,7,0.5\n2007,8,2\n2007,9,16\n2007,10,25\n2007,11,25\n2007,12,36\n2007,13,49\n2007,14,81\n2007,15,100\n2007,16,81\n2007,17,49\n2007,18,25\n2007,19,9\n2007,20,3\n2007,21,3\n2007,22,3\n2007,23,3\n2007,24,3\n2007,25,3\n2007,26,3\n2007,27,3\n2007,28,3\n2007,29,3\n2007,30,3\n2007,31,3\n2007,32,3\n2007,33,2\n2007,34,2\n2007,35,2\n2007,36,2\n2007,37,2\n2007,38,1\n2007,39,1\n2007,40,1\n2007,41,0.5\n2007,42,0.5\n2007,43,0.3\n2007,44,0.3\n2008,6,0.3\n2008,7,0.5\n2008,8,9\n2008,9,16\n2008,10,25\n2008,11,25\n2008,12,36\n2008,13,25\n2008,14,16\n2008,15,16\n2008,16,16\n2008,17,20\n2008,18,25\n2008,19,9\n2008,20,3\n2008,21,3\n2008,22,3\n2008,23,3\n2008,24,3\n2008,25,3\n2008,26,3\n2008,27,3\n2008,28,6\n2008,29,6\n2008,30,6\n2008,31,6\n2008,32,3\n2008,33,2\n2008,34,2\n2008,35,2\n2008,36,2\n2008,37,2\n2008,38,1\n2008,39,1\n2008,40,1\n2008,41,0.5\n2008,42,0.5\n2008,43,0.3\n2008,44,0.3\n2009,6,0.3\n2009,7,0.5\n2009,8,2\n2009,9,3\n2009,10,9\n2009,11,12\n2009,12,9\n2009,13,9\n2009,14,3\n2009,15,3\n2009,16,3\n2009,17,3\n2009,18,3\n2009,19,3\n2009,20,3\n2009,21,3\n2009,22,3\n2009,23,3\n2009,24,3\n2009,25,3\n2009,26,3\n2009,27,3\n2009,28,3\n2009,29,3\n2009,30,3\n2009,31,3\n2009,32,3\n2009,33,2\n2009,34,2\n2009,35,2\n2009,36,2\n2009,37,2\n2009,38,1\n2009,39,1\n2009,40,1\n2009,41,0.5\n2009,42,0.5\n2009,43,0.3\n2009,44,0.3\n2010,6,0.3\n2010,7,0.5\n2010,8,2\n2010,9,3\n2010,10,3\n2010,11,3\n2010,12,12\n2010,13,20\n2010,14,12\n2010,15,3\n2010,16,3\n2010,17,3\n2010,18,3\n2010,19,3\n2010,20,3\n2010,21,3\n2010,22,3\n2010,23,3\n2010,24,3\n2010,25,3\n2010,26,3\n2010,27,3\n2010,28,3\n2010,29,3\n2010,30,3\n2010,31,3\n2010,32,3\n2010,33,2\n2010,34,2\n2010,35,2\n2010,36,2\n2010,37,2\n2010,38,1\n2010,39,1\n2010,40,1\n2010,41,0.5\n2010,42,0.5\n2010,43,0.3\n2010,44,0.3\n2011,6,0.3\n2011,7,0.5\n2011,8,2\n2011,9,3\n2011,10,3\n2011,11,3\n2011,12,3\n2011,13,3\n2011,14,3\n2011,15,3\n2011,16,3\n2011,17,3\n2011,18,3\n2011,19,3\n2011,20,3\n2011,21,3\n2011,22,3\n2011,23,3\n2011,24,3\n2011,25,3\n2011,26,3\n2011,27,3\n2011,28,3\n2011,29,3\n2011,30,3\n2011,31,3\n2011,32,3\n2011,33,2\n2011,34,2\n2011,35,2\n2011,36,2\n2011,37,2\n2011,38,1\n2011,39,1\n2011,40,1\n2011,41,0.5\n2011,42,0.5\n2011,43,0.3\n2011,44,0.3\n2012,6,0.3\n2012,7,4\n2012,8,25\n2012,9,49\n2012,10,64\n2012,11,49\n2012,12,16\n2012,13,9\n2012,14,3\n2012,15,3\n2012,16,3\n2012,17,3\n2012,18,3\n2012,19,3\n2012,20,3\n2012,21,3\n2012,22,3\n2012,23,3\n2012,24,3\n2012,25,3\n2012,26,3\n2012,27,3\n2012,28,3\n2012,29,3\n2012,30,3\n2012,31,3\n2012,32,3\n2012,33,2\n2012,34,2\n2012,35,2\n2012,36,2\n2012,37,2\n2012,38,1\n2012,39,1\n2012,40,1\n2012,41,0.5\n2012,42,0.5\n2012,43,0.3\n2012,44,0.3\n2013,6,0.3\n2013,7,4\n2013,8,36\n2013,9,289\n2013,10,361\n2013,11,196\n2013,12,144\n2013,13,144\n2013,14,100\n2013,15,36\n2013,16,16\n2013,17,9\n2013,18,3\n2013,19,3\n2013,20,3\n2013,21,3\n2013,22,3\n2013,23,3\n2013,24,3\n2013,25,6\n2013,26,6\n2013,27,6\n2013,28,6\n2013,29,6\n2013,30,6\n2013,31,6\n2013,32,3\n2013,33,2\n2013,34,2\n2013,35,2\n2013,36,2\n2013,37,2\n2013,38,1\n2013,39,1\n2013,40,1\n2013,41,0.5\n2013,42,0.5\n2013,43,0.3\n2013,44,0.3\n2014,6,0.3\n2014,7,2\n2014,8,9\n2014,9,64\n2014,10,100\n2014,11,100\n2014,12,144\n2014,13,169\n2014,14,169\n2014,15,100\n2014,16,64\n2014,17,36\n2014,18,16\n2014,19,9\n2014,20,3\n2014,21,3\n2014,22,3\n2014,23,3\n2014,24,3\n2014,25,6\n2014,26,6\n2014,27,6\n2014,28,6\n2014,29,6\n2014,30,6\n2014,31,6\n2014,32,3\n2014,33,2\n2014,34,2\n2014,35,2\n2014,36,2\n2014,37,2\n2014,38,1\n2014,39,1\n2014,40,1\n2014,41,0.5\n2014,42,0.5\n2014,43,0.3\n2014,44,0.3\n2015,6,0.3\n2015,7,0.5\n2015,8,4\n2015,9,25\n2015,10,49\n2015,11,64\n2015,12,64\n2015,13,64\n2015,14,64\n2015,15,64\n2015,16,64\n2015,17,49\n2015,18,49\n2015,19,25\n2015,20,16\n2015,21,9\n2015,22,3\n2015,23,3\n2015,24,3\n2015,25,6\n2015,26,6\n2015,27,6\n2015,28,6\n2015,29,6\n2015,30,6\n2015,31,6\n2015,32,3\n2015,33,2\n2015,34,2\n2015,35,2\n2015,36,2\n2015,37,2\n2015,38,1\n2015,39,1\n2015,40,1\n2015,41,0.5\n2015,42,0.5\n2015,43,0.3\n2015,44,0.3\n2016,6,0.3\n2016,7,0.5\n2016,8,2\n2016,9,4\n2016,10,9\n2016,11,16\n2016,12,25\n2016,13,36\n2016,14,36\n2016,15,36\n2016,16,36\n2016,17,30\n2016,18,25\n2016,19,25\n2016,20,16\n2016,21,16\n2016,22,6\n2016,23,3\n2016,24,3\n2016,25,6\n2016,26,6\n2016,27,6\n2016,28,6\n2016,29,6\n2016,30,6\n2016,31,6\n2016,32,3\n2016,33,2\n2016,34,2\n2016,35,2\n2016,36,2\n2016,37,2\n2016,38,1\n2016,39,1\n2016,40,1\n2016,41,0.5\n2016,42,0.5\n2016,43,0.3\n2016,44,0.3"
      },
      "mark": {"type": "circle", "fill": "#dedede", "fillOpacity": 1, "opacity": 1, "strokeWidth": 1, "clip": false},
      "encoding": {
        "x": {"field": "y", "type": "quantitative", "scale": {"domain": [1980, 2020], "nice": false, "zero": false},
              "axis": {"title": "Year", "values": [1980, 1990, 2000, 2010, 2020], "format": "d", "labelPadding": 27, "titleX": 216, "titleY": 137, "titleBaseline": "alphabetic"}},
        "y": {"field": "l", "type": "quantitative", "scale": {"domain": [5, 45], "nice": false, "zero": false},
              "axis": {"title": "Length (cm)", "values": [10, 20, 30, 40], "labelPadding": 21, "titleX": -116, "titleY": 224, "titleAngle": -90, "titleBaseline": "alphabetic"}},
        "size": {"field": "s", "type": "quantitative", "scale": {"domain": [0, 1444], "range": [0, 4536], "zero": true}, "legend": null},
        "stroke": {"condition": {"test": "datum.s > 800", "value": "#111111"}, "value": "#8a8a8a"}
      }
    }
  ]
}
